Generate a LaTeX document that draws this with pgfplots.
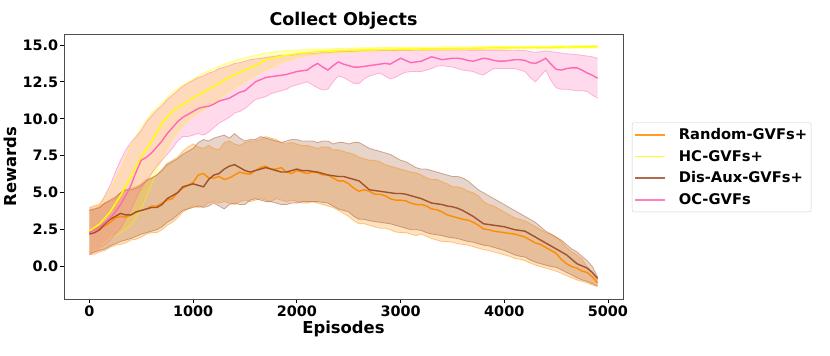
\documentclass[border=0pt]{standalone}
\usepackage{fontspec}
\setmainfont{DejaVu Sans}
\usepackage{pgfplots}
\pgfplotsset{compat=1.18}
\usepackage{pgfplotstable}
\usepgfplotslibrary{fillbetween}

\definecolor{rndorange}{HTML}{FF8C00}
\definecolor{hcyellow}{HTML}{FFFF00}
\definecolor{disbrown}{HTML}{A0522D}
\definecolor{ocpink}{HTML}{FF69B4}

% columns: episode, mean, upper, lower
\pgfplotstableread{
x m u l
0 2.3 3.9 0.8
50 2.5 3.9 0.85
100 2.6 4.1 1.0
150 2.75 4.3 1.1
200 3.0 4.4 1.3
250 3.3 4.6 1.45
300 3.4 5.0 1.5
350 3.35 5.2 1.6
400 3.5 5.3 1.8
450 3.7 5.4 1.85
500 3.8 5.6 2.0
550 3.9 5.9 2.2
600 4.1 6.0 2.3
650 4.1 6.2 2.3
700 4.3 6.6 2.5
750 4.5 7.0 2.8
800 4.6 7.2 3.0
850 5.0 7.4 3.3
900 5.3 7.8 3.7
950 5.5 8.1 3.9
1000 5.7 8.3 4.1
1050 6.2 8.1 4.0
1100 6.3 8.0 4.1
1150 6.0 8.2 4.3
1200 6.0 8.0 4.4
1250 6.1 7.9 4.3
1300 5.9 8.4 4.4
1350 6.0 8.5 4.3
1400 6.2 8.3 4.2
1450 6.4 8.2 4.4
1500 6.3 8.4 4.5
1550 6.25 8.5 4.4
1600 6.5 8.5 4.5
1650 6.7 8.6 4.6
1700 6.8 8.8 4.5
1750 6.6 8.7 4.4
1800 6.6 8.6 4.6
1850 6.7 8.4 4.5
1900 6.4 8.3 4.4
1950 6.3 8.4 4.5
2000 6.5 8.3 4.4
2050 6.4 8.2 4.3
2100 6.3 8.2 4.3
2150 6.4 8.1 4.4
2200 6.35 8.0 4.3
2250 6.2 8.1 4.2
2300 6.2 8.1 4.1
2350 6.0 7.9 4.0
2400 5.8 7.9 3.8
2450 5.8 7.8 3.6
2500 5.6 7.7 3.4
2550 5.3 7.6 3.1
2600 5.1 7.4 2.9
2650 5.2 7.3 2.9
2700 5.1 7.2 2.8
2750 4.9 7.2 2.7
2800 4.9 7.1 2.6
2850 4.8 6.9 2.6
2900 4.6 6.8 2.5
2950 4.5 6.7 2.35
3000 4.5 6.6 2.3
3050 4.45 6.5 2.3
3100 4.3 6.4 2.2
3150 4.2 6.35 2.1
3200 4.2 6.2 2.2
3250 4.1 6.0 2.05
3300 3.9 5.9 1.9
3350 3.85 5.9 1.8
3400 3.7 5.75 1.7
3450 3.5 5.6 1.7
3500 3.4 5.4 1.65
3550 3.3 5.4 1.55
3600 3.2 5.3 1.5
3650 3.15 5.1 1.45
3700 3.0 5.0 1.35
3750 2.8 4.8 1.25
3800 2.55 4.4 1.15
3850 2.5 4.2 1.1
3900 2.4 4.1 1.0
3950 2.35 3.9 0.9
4000 2.3 3.7 0.8
4050 2.25 3.5 0.7
4100 2.2 3.3 0.55
4150 2.1 3.2 0.5
4200 2.0 3.1 0.4
4250 1.8 2.9 0.25
4300 1.6 2.7 0.1
4350 1.5 2.5 0.0
4400 1.3 2.3 -0.1
4450 1.1 2.2 -0.2
4500 0.9 2.0 -0.3
4550 0.5 1.7 -0.45
4600 0.2 1.3 -0.6
4650 0.0 1.0 -0.75
4700 -0.1 0.8 -0.9
4750 -0.3 0.5 -1.0
4800 -0.4 0.0 -1.1
4850 -0.7 -0.4 -1.25
4900 -1.1 -0.9 -1.35
}\rndtab

\pgfplotstableread{
x m u l
0 2.4 4.0 0.9
100 2.9 4.3 1.3
200 3.7 5.2 1.9
300 4.8 6.6 2.3
400 6.1 8.2 2.8
500 7.4 9.4 3.9
600 8.5 10.4 5.6
700 9.7 11.1 7.3
800 10.5 11.8 8.6
900 11.0 12.3 9.5
1000 11.4 12.7 10.2
1100 11.8 13.1 10.6
1200 12.2 13.4 11.1
1300 12.6 13.7 11.6
1400 13.0 13.95 12.1
1500 13.3 14.15 12.5
1600 13.6 14.3 12.9
1700 14.0 14.45 13.3
1800 14.15 14.55 13.6
1900 14.3 14.62 13.9
2000 14.4 14.66 14.1
2100 14.5 14.7 14.25
2200 14.55 14.72 14.35
2300 14.58 14.74 14.4
2400 14.62 14.76 14.45
2500 14.64 14.78 14.5
2600 14.66 14.8 14.52
2700 14.67 14.8 14.55
2800 14.69 14.82 14.57
2900 14.7 14.83 14.58
3000 14.72 14.84 14.6
3100 14.72 14.85 14.62
3200 14.73 14.85 14.63
3300 14.74 14.86 14.64
3400 14.75 14.87 14.65
3500 14.76 14.87 14.66
3600 14.77 14.88 14.68
3700 14.78 14.88 14.69
3800 14.79 14.89 14.7
3900 14.8 14.9 14.71
4000 14.8 14.9 14.72
4100 14.81 14.91 14.73
4200 14.82 14.91 14.74
4300 14.83 14.92 14.75
4400 14.84 14.93 14.76
4500 14.85 14.93 14.77
4600 14.86 14.94 14.78
4700 14.87 14.95 14.79
4800 14.87 14.95 14.8
4900 14.88 14.96 14.8
}\hctab

\pgfplotstableread{
x m u l
0 2.2 3.8 0.9
50 2.3 3.9 1.0
100 2.5 4.0 1.1
150 2.9 4.3 1.2
200 3.2 4.5 1.4
250 3.4 4.7 1.55
300 3.6 5.0 1.7
350 3.5 5.2 1.8
400 3.5 5.2 1.9
450 3.7 5.3 2.05
500 3.8 5.5 2.2
550 3.9 5.8 2.3
600 4.0 6.0 2.4
650 4.0 6.2 2.5
700 4.2 6.5 2.7
750 4.6 6.9 3.0
800 4.8 7.1 3.2
850 5.0 7.3 3.5
900 5.4 7.6 3.8
950 5.5 7.8 3.9
1000 5.6 8.0 4.0
1050 5.5 8.4 4.1
1100 5.4 8.6 4.0
1150 5.9 8.5 4.1
1200 6.2 8.7 4.3
1250 6.3 8.8 4.1
1300 6.6 8.9 3.9
1350 6.8 8.7 4.2
1400 6.9 9.0 4.3
1450 6.7 8.7 4.2
1500 6.5 8.5 4.2
1550 6.4 8.6 4.5
1600 6.5 8.6 4.6
1650 6.6 8.8 4.5
1700 6.7 8.7 4.4
1750 6.6 8.6 4.4
1800 6.5 8.5 4.3
1850 6.4 8.4 4.2
1900 6.4 8.5 4.2
1950 6.5 8.6 4.3
2000 6.6 8.6 4.3
2050 6.5 8.5 4.4
2100 6.5 8.5 4.4
2150 6.45 8.5 4.4
2200 6.4 8.4 4.4
2250 6.3 8.5 4.35
2300 6.2 8.5 4.3
2350 6.15 8.3 4.1
2400 6.1 8.4 3.9
2450 6.1 8.4 3.8
2500 6.0 8.3 3.7
2550 5.9 8.4 3.4
2600 5.8 8.4 3.2
2650 5.5 8.2 3.2
2700 5.2 8.0 3.1
2750 5.15 7.9 3.05
2800 5.1 7.8 3.0
2850 5.05 7.7 2.95
2900 5.0 7.6 2.9
2950 4.95 7.4 2.8
3000 4.95 7.2 2.7
3050 4.9 7.1 2.6
3100 4.8 6.9 2.5
3150 4.7 6.7 2.5
3200 4.6 6.6 2.45
3250 4.45 6.6 2.3
3300 4.3 6.5 2.2
3350 4.25 6.4 2.15
3400 4.2 6.3 2.1
3450 4.1 6.2 2.0
3500 4.05 6.1 1.95
3550 3.95 6.1 1.9
3600 3.8 6.0 1.8
3650 3.6 5.8 1.7
3700 3.4 5.5 1.65
3750 3.15 5.2 1.55
3800 2.9 5.0 1.45
3850 2.85 4.8 1.4
3900 2.8 4.6 1.3
3950 2.75 4.4 1.2
4000 2.7 4.2 1.1
4050 2.6 4.0 0.95
4100 2.5 3.8 0.8
4150 2.45 3.6 0.7
4200 2.4 3.4 0.65
4250 2.2 3.2 0.45
4300 2.0 3.0 0.3
4350 1.8 2.7 0.2
4400 1.6 2.4 0.1
4450 1.4 2.2 0.0
4500 1.2 2.0 -0.05
4550 1.0 1.8 -0.2
4600 0.8 1.5 -0.4
4650 0.5 1.2 -0.55
4700 0.2 1.0 -0.75
4750 0.05 0.7 -0.9
4800 -0.1 0.4 -1.0
4850 -0.4 0.0 -1.15
4900 -0.8 -0.7 -1.3
}\distab

\pgfplotstableread{
x m u l
0 2.3 4.0 0.8
50 2.5 4.1 1.0
100 2.7 4.2 1.3
150 3.0 4.8 1.5
200 3.3 5.5 1.8
250 3.7 6.4 2.2
300 4.2 7.2 2.6
350 4.8 7.9 3.2
400 5.5 8.4 3.8
450 6.4 8.8 4.6
500 7.2 9.2 5.3
550 7.4 9.8 5.8
600 7.7 10.2 6.3
650 8.1 10.6 6.8
700 8.5 10.9 7.2
750 9.0 11.3 7.6
800 9.4 11.6 8.0
850 9.8 11.9 8.5
900 10.1 12.2 8.8
950 10.3 12.4 8.8
1000 10.5 12.6 8.9
1050 10.7 12.8 9.0
1100 10.8 12.9 8.9
1150 10.85 13.1 9.1
1200 11.0 13.2 9.4
1250 11.2 13.4 9.7
1300 11.3 13.5 9.9
1350 11.4 13.6 10.1
1400 11.6 13.75 10.4
1450 11.8 13.8 10.5
1500 11.9 13.9 10.7
1550 12.2 14.0 11.0
1600 12.5 14.05 11.3
1650 12.65 14.1 11.4
1700 12.8 14.15 11.5
1750 12.85 14.2 11.7
1800 12.9 14.25 11.8
1850 12.95 14.3 11.9
1900 13.0 14.3 12.0
1950 13.1 14.3 12.2
2000 13.2 14.35 12.3
2050 13.25 14.4 12.4
2100 13.3 14.4 12.5
2150 13.55 14.42 12.3
2200 13.75 14.45 12.1
2250 13.5 14.5 11.95
2300 13.3 14.5 12.0
2350 13.6 14.52 12.5
2400 13.85 14.55 12.9
2450 13.7 14.55 12.8
2500 13.6 14.55 12.6
2550 13.5 14.58 12.4
2600 13.5 14.6 12.4
2650 13.55 14.6 12.7
2700 13.6 14.6 12.9
2750 13.65 14.6 13.0
2800 13.7 14.62 13.1
2850 13.75 14.62 12.9
2900 13.7 14.62 12.7
2950 13.9 14.63 12.8
3000 14.1 14.65 13.0
3050 13.95 14.65 13.15
3100 13.8 14.65 13.2
3150 13.85 14.66 13.2
3200 13.9 14.66 13.2
3250 14.05 14.66 13.3
3300 14.2 14.66 13.4
3350 14.1 14.66 13.55
3400 14.0 14.66 13.6
3450 14.05 14.66 13.55
3500 14.1 14.66 13.5
3550 14.1 14.66 13.4
3600 14.05 14.66 13.3
3650 13.95 14.65 13.25
3700 13.9 14.65 13.2
3750 14.0 14.65 13.05
3800 14.1 14.65 12.97
3850 14.05 14.65 13.2
3900 13.95 14.65 13.4
3950 13.9 14.65 13.4
4000 13.9 14.65 13.4
4050 13.95 14.64 13.4
4100 14.0 14.64 13.4
4150 14.0 14.63 13.3
4200 13.95 14.62 13.2
4250 13.8 14.55 12.8
4300 13.75 14.5 12.5
4350 13.9 14.55 12.9
4400 14.1 14.6 13.3
4450 13.7 14.55 12.6
4500 13.35 14.5 12.1
4550 13.3 14.45 12.0
4600 13.4 14.4 12.0
4650 13.45 14.38 11.95
4700 13.45 14.35 11.9
4750 13.3 14.3 11.9
4800 13.1 14.25 11.85
4850 12.95 14.2 11.6
4900 12.75 14.1 11.4
}\octab

\pgfplotsset{
  band/.style={line width=0.8pt, draw opacity=0.45},
  meanline/.style={line width=1.4pt},
}

\begin{document}
\begin{tikzpicture}
\begin{axis}[
  scale only axis, width=559pt, height=265pt,
  xmin=-245, xmax=5145, ymin=-2.19, ymax=15.74,
  xtick={0,1000,2000,3000,4000,5000},
  ytick={0,2.5,5,7.5,10,12.5,15},
  xtick pos=left, ytick pos=left,
  tick align=outside, major tick length=3.5pt,
  tick style={black, line width=0.8pt},
  axis line style={black!70, line width=0.8pt},
  /pgf/number format/assume math mode=true,
  tick label style={font=\fontsize{14.4}{16}\selectfont\bfseries, inner sep=0pt},
  xticklabel style={/pgf/number format/set thousands separator={}, yshift=-3.5pt},
  yticklabel style={/pgf/number format/fixed, /pgf/number format/fixed zerofill, /pgf/number format/precision=1, xshift=-2.2pt},
  title={Collect Objects},
  title style={font=\fontsize{17.5}{20}\selectfont\bfseries, at={(axis description cs:0.5,1.0087)}, anchor=base},
  xlabel={Episodes},
  xlabel style={font=\fontsize{16.4}{19}\selectfont\bfseries, at={(axis description cs:0.5,-0.1302)}, anchor=base},
  ylabel={Rewards},
  ylabel style={font=\fontsize{16.4}{19}\selectfont\bfseries, at={(axis description cs:-0.0841,0.5)}, anchor=base},
  legend style={at={(1.016,0.497)}, anchor=west, draw=black!20, rounded corners=2pt,
    font=\fontsize{14.7}{17}\selectfont\bfseries, row sep=5pt, inner xsep=2pt, inner ysep=4pt,
    /tikz/every odd column/.append style={column sep=11pt}},
  legend cell align=left,
]
% Random-GVFs+
\addplot[forget plot, band, rndorange, name path=ru] table[x=x, y=u] {\rndtab};
\addplot[forget plot, band, rndorange, name path=rl] table[x=x, y=l] {\rndtab};
\addplot[forget plot, draw=none, fill=rndorange, fill opacity=0.25] fill between[of=ru and rl];
% HC-GVFs+
\addplot[forget plot, band, hcyellow, name path=hu] table[x=x, y=u] {\hctab};
\addplot[forget plot, band, hcyellow, name path=hl] table[x=x, y=l] {\hctab};
\addplot[forget plot, draw=none, fill=hcyellow, fill opacity=0.25] fill between[of=hu and hl];
% Dis-Aux-GVFs+
\addplot[forget plot, band, disbrown, name path=du] table[x=x, y=u] {\distab};
\addplot[forget plot, band, disbrown, name path=dl] table[x=x, y=l] {\distab};
\addplot[forget plot, draw=none, fill=disbrown, fill opacity=0.25] fill between[of=du and dl];
% OC-GVFs
\addplot[forget plot, band, ocpink, name path=ou] table[x=x, y=u] {\octab};
\addplot[forget plot, band, ocpink, name path=ol] table[x=x, y=l] {\octab};
\addplot[forget plot, draw=none, fill=ocpink, fill opacity=0.25] fill between[of=ou and ol];
% means
\addplot[forget plot, meanline, rndorange] table[x=x, y=m] {\rndtab};
\addplot[forget plot, meanline, hcyellow] table[x=x, y=m] {\hctab};
\addplot[forget plot, meanline, disbrown] table[x=x, y=m] {\distab};
\addplot[forget plot, meanline, ocpink] table[x=x, y=m] {\octab};
\addlegendimage{legend image code/.code={\draw[draw=rndorange, draw opacity=0.85, line width=1.7pt] (0pt,0pt) -- (30pt,0pt);}}
\addlegendentry{Random-GVFs+}
\addlegendimage{legend image code/.code={\draw[draw=hcyellow, draw opacity=0.85, line width=1.7pt] (0pt,0pt) -- (30pt,0pt);}}
\addlegendentry{HC-GVFs+}
\addlegendimage{legend image code/.code={\draw[draw=disbrown, draw opacity=0.85, line width=1.7pt] (0pt,0pt) -- (30pt,0pt);}}
\addlegendentry{Dis-Aux-GVFs+}
\addlegendimage{legend image code/.code={\draw[draw=ocpink, draw opacity=0.85, line width=1.7pt] (0pt,0pt) -- (30pt,0pt);}}
\addlegendentry{OC-GVFs}
\end{axis}
\pgfresetboundingbox
\path[use as bounding box] ([shift={(-64pt,-57pt)}]current axis.south west) rectangle ++(830pt,356pt);
\end{tikzpicture}
\end{document}
